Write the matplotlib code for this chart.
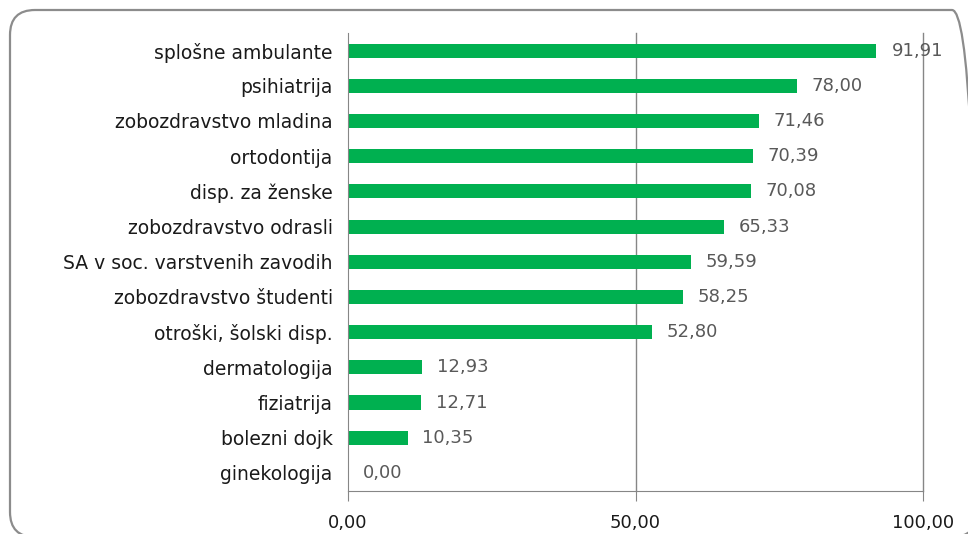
import matplotlib.pyplot as plt
from matplotlib.patches import FancyBboxPatch

plt.rcParams['font.family'] = ['DejaVu Sans']

categories = ["splošne ambulante", "psihiatrija", "zobozdravstvo mladina", "ortodontija",
              "disp. za ženske", "zobozdravstvo odrasli", "SA v soc. varstvenih zavodih",
              "zobozdravstvo študenti", "otroški, šolski disp.", "dermatologija",
              "fiziatrija", "bolezni dojk", "ginekologija"]
values = [91.91, 78.00, 71.46, 70.39, 70.08, 65.33, 59.59, 58.25, 52.80, 12.93, 12.71, 10.35, 0.00]
xticks = [0, 50, 100]

W, H = 968, 534
fig = plt.figure(figsize=(W / 100, H / 100), dpi=100)
ax = fig.add_axes([348 / W, 1 - 490.5 / H, (923 - 348) / W, (490.5 - 33) / H])

# rounded frame around the chart (pixel coordinates, origin bottom-left), cut by the image edges
box = FancyBboxPatch((10, -3), 967, 527,
                     boxstyle="round,pad=0,rounding_size=25",
                     transform=None, fill=False,
                     edgecolor="#8c8c8c", linewidth=1.6)
fig.patches.append(box)

y = list(range(len(categories)))
ax.barh(y, values, height=0.4, color="#00B050")
for yi, v in zip(y, values):
    ax.text(v + 2.6, yi, f"{v:.2f}".replace(".", ","), va="center", ha="left",
            fontsize=13, color="#595959")

ax.set_xlim(0, 100)
ax.set_ylim(len(categories) - 0.5, -0.5)
ax.set_yticks(y)
ax.set_yticklabels(categories, fontsize=13.5, color="#1a1a1a")
ax.set_xticks(xticks)
ax.set_xticklabels([f"{t:.2f}".replace(".", ",") for t in xticks], fontsize=13, color="#1a1a1a")
ax.tick_params(axis="y", length=0, pad=11)
ax.tick_params(axis="x", direction="out", length=7, color="#868686", pad=10)

for t in [50, 100]:
    ax.axvline(t, color="#868686", linewidth=1, zorder=0, clip_on=False)
for s in ["top", "right"]:
    ax.spines[s].set_visible(False)
ax.spines["left"].set_color("#868686")
ax.spines["bottom"].set_color("#868686")

fig.savefig("out.png", dpi=100)
